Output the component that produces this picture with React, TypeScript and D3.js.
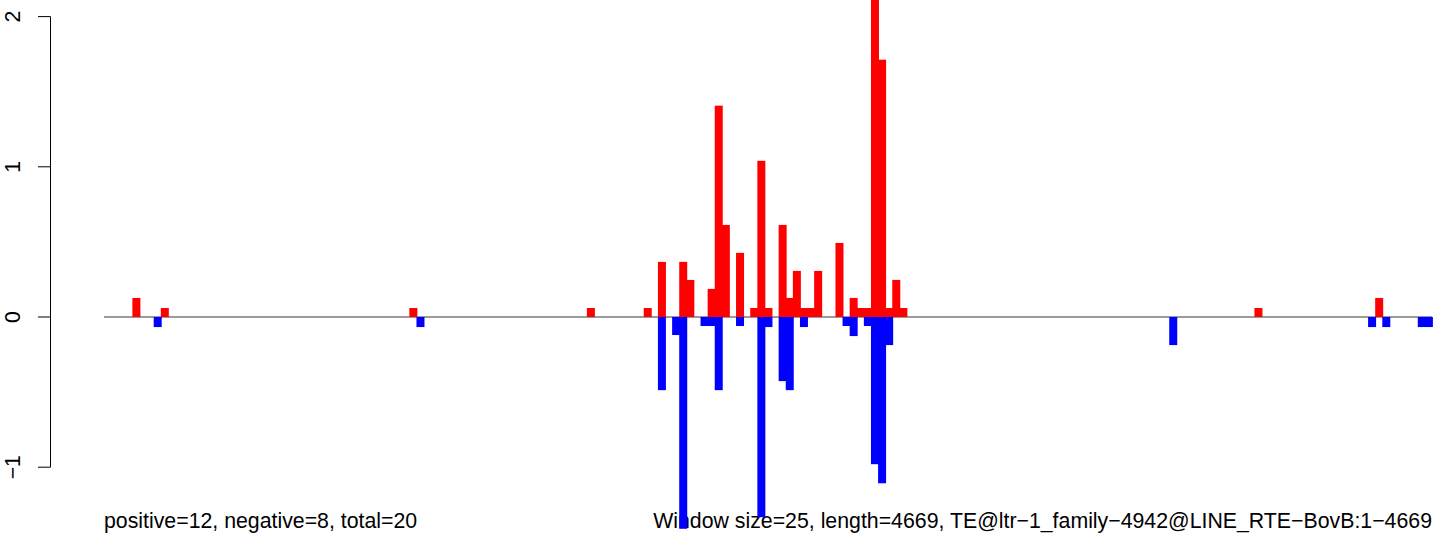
import React from "react";
import * as d3 from "d3";

const WINDOW = 25;
const N_WINDOWS = 187;

const posIdx = [4, 8, 43, 68, 76, 78, 81, 82, 85, 86, 87, 89, 91, 92, 93, 95, 96, 97, 98, 99, 100, 103, 105, 106, 107, 108, 109, 110, 111, 112, 162, 179];
const posVal = [0.127, 0.06, 0.06, 0.06, 0.06, 0.367, 0.367, 0.247, 0.187, 1.407, 0.613, 0.427, 0.06, 1.04, 0.06, 0.613, 0.127, 0.307, 0.06, 0.06, 0.307, 0.493, 0.127, 0.06, 0.06, 2.2, 1.713, 0.06, 0.247, 0.06, 0.06, 0.127];

const negIdx = [7, 44, 78, 80, 81, 84, 85, 86, 89, 92, 93, 95, 96, 98, 104, 105, 107, 108, 109, 110, 150, 178, 180, 185, 186];
const negVal = [-0.067, -0.067, -0.487, -0.12, -1.41, -0.06, -0.06, -0.487, -0.06, -1.333, -0.067, -0.427, -0.487, -0.067, -0.06, -0.127, -0.06, -0.98, -1.107, -0.187, -0.187, -0.067, -0.067, -0.067, -0.067];

const yTicks = [-1, 0, 1, 2];
const leftText = "positive=12, negative=8, total=20";
const rightText = "Window size=25, length=4669, TE@ltr\u22121_family\u22124942@LINE_RTE\u2212BovB:1\u22124669";

export default function App() {
  const W = 1441, H = 535;
  const x = d3.scaleLinear().domain([0, N_WINDOWS * WINDOW]).range([104, 1432]);
  const y = d3.scaleLinear().domain([0, 1]).range([317, 166.8]);
  const font = "'Liberation Sans', Arial, Helvetica, sans-serif";
  const fs = 21.3;

  const bar = (i: number, v: number, color: string, k: string) => {
    const x0 = x(i * WINDOW);
    const x1 = x((i + 1) * WINDOW);
    const ya = y(Math.max(0, v));
    const yb = y(Math.min(0, v));
    return <rect key={k} x={x0} y={ya} width={x1 - x0 + 0.9} height={yb - ya} fill={color} />;
  };

  return (
    <svg width={W} height={H} style={{ position: "absolute", left: 0, top: 0, background: "#fff" }}>
      <rect x={0} y={0} width={W} height={H} fill="#fff" />
      <line x1={50.5} x2={50.5} y1={y(-1)} y2={y(2)} stroke="#000" strokeWidth={1} />
      {yTicks.map((t) => (
        <g key={t}>
          <line x1={38} x2={50.5} y1={y(t)} y2={y(t)} stroke="#000" strokeWidth={1} />
          <text
            transform={`translate(20,${y(t)}) rotate(-90)`}
            textAnchor="middle"
            fontFamily={font}
            fontSize={fs}
            fill="#000"
          >
            {t < 0 ? "\u2212" + Math.abs(t) : String(t)}
          </text>
        </g>
      ))}
      <text x={104} y={528} fontFamily={font} fontSize={fs} fill="#000">{leftText}</text>
      <text x={1432} y={528} textAnchor="end" fontFamily={font} fontSize={fs} fill="#000">{rightText}</text>
      <line x1={104} x2={1432} y1={y(0)} y2={y(0)} stroke="#7a7a7a" strokeWidth={1.4} />
      {posIdx.map((i, k) => bar(i, posVal[k], "#ff0000", "p" + k))}
      {negIdx.map((i, k) => bar(i, negVal[k], "#0000ff", "n" + k))}
    </svg>
  );
}
